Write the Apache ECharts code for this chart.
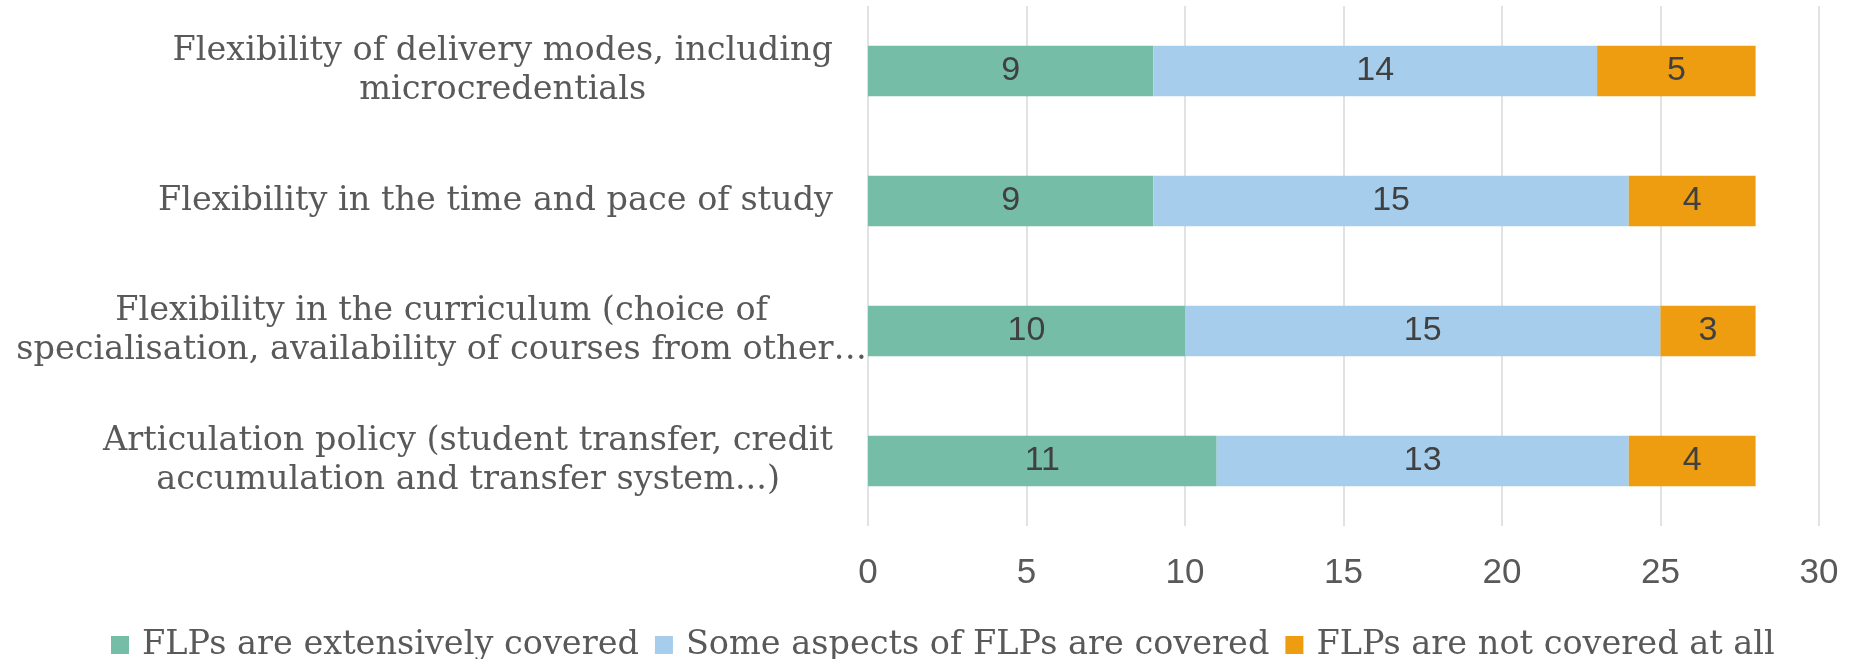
<!DOCTYPE html>
<html>
<head>
<meta charset="utf-8">
<script src="https://cdn.jsdelivr.net/npm/echarts@6/dist/echarts.min.js"></script>
<style>
  html, body { margin: 0; padding: 0; background: #fff; }
  #chart { width: 1853px; height: 659px; }
</style>
</head>
<body>
<div id="chart"></div>
<script>
// categories, top to bottom
const categories = [
  'Flexibility of delivery modes, including\nmicrocredentials',
  'Flexibility in the time and pace of study',
  'Flexibility in the curriculum (choice of\nspecialisation, availability of courses from other\u2026',
  'Articulation policy (student transfer, credit\naccumulation and transfer system...)'
];
const extensive = [9, 9, 10, 11];
const someAspects = [14, 15, 15, 13];
const notCovered = [5, 4, 3, 4];
const seriesNames = ['FLPs are extensively covered', 'Some aspects of FLPs are covered', 'FLPs are not covered at all'];
const colors = ['#76BDA7', '#A6CEEC', '#EE9C10'];

const textFont = '"DejaVu Serif", serif';
const numFont = '"Liberation Sans", Arial, sans-serif';

const chart = echarts.init(document.getElementById('chart'));

// the long curriculum label runs right up to the axis in the original
const yData = categories.map(function (c, i) {
  if (i === 2) return { value: c, textStyle: { padding: [0, -34, 0, 0] } };
  return c;
});

function barSeries(name, data, color) {
  return {
    name: name,
    type: 'bar',
    stack: 'total',
    barWidth: '39%',
    itemStyle: { color: color },
    label: {
      show: true,
      position: 'inside',
      color: '#404040',
      fontFamily: numFont,
      fontSize: 34
    },
    data: data
  };
}

const option = {
  animation: false,
  color: colors,
  grid: {
    left: 868,
    right: 34,
    top: 6,
    bottom: 133,
    containLabel: false,
    outerBoundsMode: 'none'
  },
  legend: {
    data: seriesNames,
    left: 106,
    top: 623,
    icon: 'rect',
    itemWidth: 18,
    itemHeight: 18,
    itemGap: 16,
    textStyle: { color: '#595959', fontFamily: textFont, fontSize: 33.5, padding: [0, 0, 0, 8] }
  },
  xAxis: {
    type: 'value',
    min: 0,
    max: 30,
    interval: 5,
    axisLine: { show: false },
    axisTick: { show: false },
    splitLine: { lineStyle: { color: '#D9D9D9', width: 1.5 } },
    axisLabel: { color: '#595959', fontFamily: numFont, fontSize: 35, margin: 30 }
  },
  yAxis: {
    type: 'category',
    inverse: true,
    data: yData,
    axisLine: { show: false },
    axisTick: { show: false },
    axisLabel: {
      margin: 35,
      color: '#595959',
      formatter: function (v) {
        return v.split('\n').map(function (s) { return '{c|' + s + '}'; }).join('\n');
      },
      rich: {
        c: { align: 'center', color: '#595959', fontFamily: textFont, fontSize: 33.5, lineHeight: 39 }
      }
    }
  },
  series: [
    barSeries(seriesNames[0], extensive, colors[0]),
    barSeries(seriesNames[1], someAspects, colors[1]),
    barSeries(seriesNames[2], notCovered, colors[2])
  ]
};

chart.setOption(option);
</script>
</body>
</html>
